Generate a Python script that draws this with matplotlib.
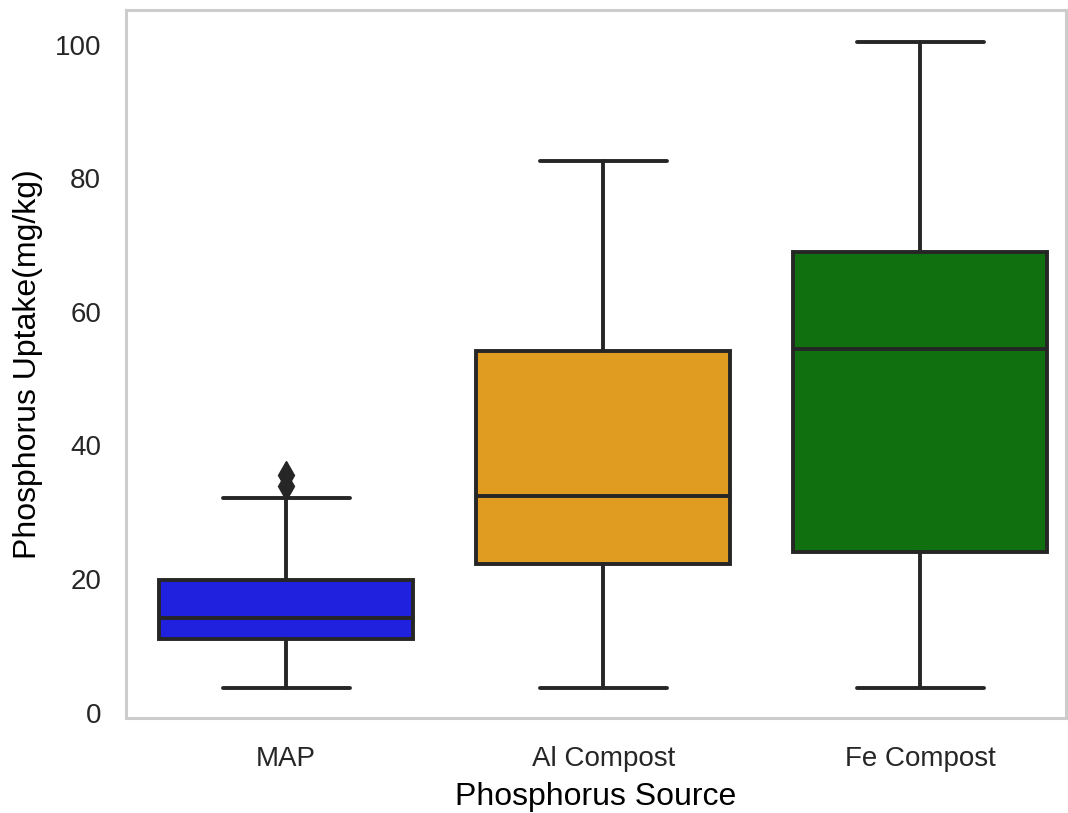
import numpy as np
import matplotlib
matplotlib.use("Agg")
import matplotlib.pyplot as plt
import seaborn as sns

# --- Data ---
sources = ["MAP", "Al Compost", "Fe Compost"]
whisker_low = [3.7, 3.7, 3.7]
q1 = [11.1, 22.3, 24.0]
median = [14.1, 32.4, 54.5]
q3 = [19.8, 54.1, 68.9]
whisker_high = [32.2, 82.6, 100.4]
outliers = [[34.0, 35.6], [], []]
box_colors = ["blue", "orange", "green"]

# --- Style ---
sns.set_style("white")
plt.rcParams['font.family'] = ['Liberation Sans', 'DejaVu Sans']

fig, ax = plt.subplots(figsize=(10.68, 8.13), dpi=100)
fig.subplots_adjust(left=126 / 1068, right=1066 / 1068, top=1 - 10 / 813, bottom=1 - 718 / 813)

stats = []
for i, name in enumerate(sources):
    stats.append(dict(label=name, whislo=whisker_low[i], q1=q1[i], med=median[i],
                      q3=q3[i], whishi=whisker_high[i], fliers=outliers[i]))

line_color = "#262626"
lw = 2.8
bp = ax.bxp(stats, positions=range(len(sources)), widths=0.8, patch_artist=True,
            boxprops=dict(edgecolor=line_color, linewidth=lw),
            medianprops=dict(color=line_color, linewidth=lw),
            whiskerprops=dict(color=line_color, linewidth=lw),
            capprops=dict(color=line_color, linewidth=lw),
            flierprops=dict(marker="d", markerfacecolor=line_color, markeredgecolor=line_color,
                            markersize=14))
for patch, c in zip(bp["boxes"], box_colors):
    patch.set_facecolor(sns.desaturate(c, 0.75))

ax.set_xlim(-0.505, 2.46)
ax.set_ylim(-0.8, 105.2)
ax.set_yticks([0, 20, 40, 60, 80, 100])
ax.tick_params(axis="both", length=0, labelsize=20, labelcolor="#262626")
ax.tick_params(axis="y", pad=18)
ax.tick_params(axis="x", pad=20)

ax.set_xlabel("Phosphorus Source", fontsize=23, color="black", labelpad=7)
ax.set_ylabel("Phosphorus Uptake(mg/kg)", fontsize=23, color="black", labelpad=8)

for s in ax.spines.values():
    s.set_color("#cccccc")
    s.set_linewidth(2.2)

fig.savefig("out.png", dpi=100)
